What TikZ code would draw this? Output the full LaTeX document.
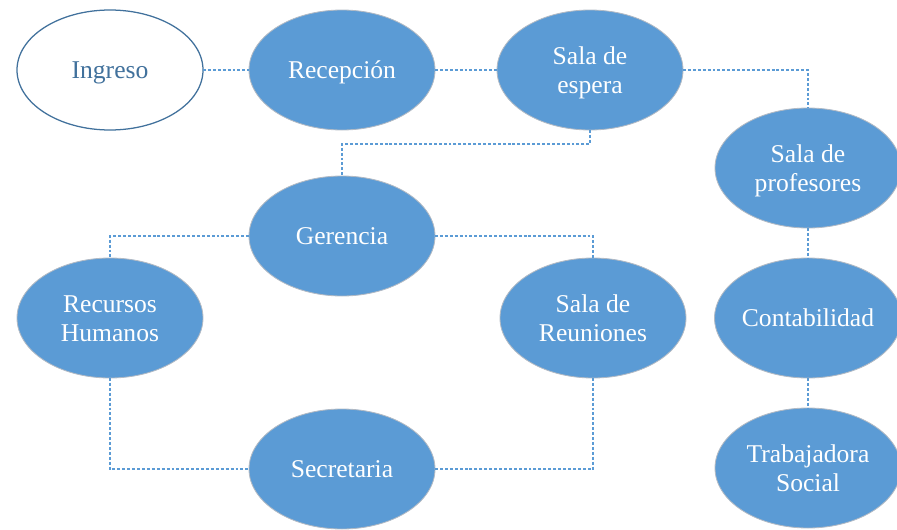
\documentclass[tikz,border=0pt]{standalone}
\usepackage{fontspec}
\setmainfont{Liberation Serif}
\usetikzlibrary{positioning,shapes.geometric}
\definecolor{salablue}{RGB}{91,155,213}
\definecolor{salaedge}{RGB}{65,113,156}
\definecolor{salagrey}{RGB}{178,186,196}

\begin{document}
\begin{tikzpicture}[
      node distance=1.15cm and 1.15cm,
      sala/.style={ellipse, draw=salagrey, line width=0.6pt, fill=salablue, text=white,
        minimum width=4.65cm, minimum height=3cm, inner sep=0pt, outer sep=0pt, align=center,
        text height=16.2pt, text depth=3.9pt,
        font=\fontsize{18.2}{20.8}\selectfont},
      sala2/.style={sala, text height=37pt},
      entrada/.style={sala, fill=white, draw=salaedge, line width=0.9pt, text=salaedge},
      link/.style={draw=salablue, line width=1.1pt, dash pattern=on 2.1pt off 1.4pt},
    ]
    \useasboundingbox (0,0) rectangle (22.425,-13.25);

    % fila superior
    \node[entrada] (ingreso) at (2.75,-1.75) {Ingreso};
    \node[sala, right=1.15cm of ingreso] (recepcion) {Recepción};
    \node[sala2, right=1.55cm of recepcion] (espera) {Sala de\\espera};

    % columna derecha
    \node[sala2] (profesores) at (20.2,-4.2) {Sala de\\profesores};
    \node[sala, below=0.75cm of profesores] (contabilidad) {Contabilidad};
    \node[sala2, below=0.75cm of contabilidad] (trabajadora) {Trabajadora\\Social};

    % bloque central
    \node[sala, below=of recepcion] (gerencia) {Gerencia};
    \node[sala2, below=3.2cm of ingreso] (recursos) {Recursos\\Humanos};
    \node[sala2, below=3.2cm of espera, xshift=0.75mm] (reuniones) {Sala de\\Reuniones};
    \node[sala, below=2.825cm of gerencia] (secretaria) {Secretaria};

    \draw[link] (ingreso) -- (recepcion);
    \draw[link] (recepcion) -- (espera);
    \draw[link] (espera) -| (profesores);
    \draw[link] (espera.south) -- ++(0,-0.35) -| (gerencia.north);
    \draw[link] (gerencia) -| (recursos);
    \draw[link] (gerencia) -| (reuniones);
    \draw[link] (recursos) |- (secretaria);
    \draw[link] (reuniones) |- (secretaria);
    \draw[link] (profesores) -- (contabilidad);
    \draw[link] (contabilidad) -- (trabajadora);
  \end{tikzpicture}
\end{document}
